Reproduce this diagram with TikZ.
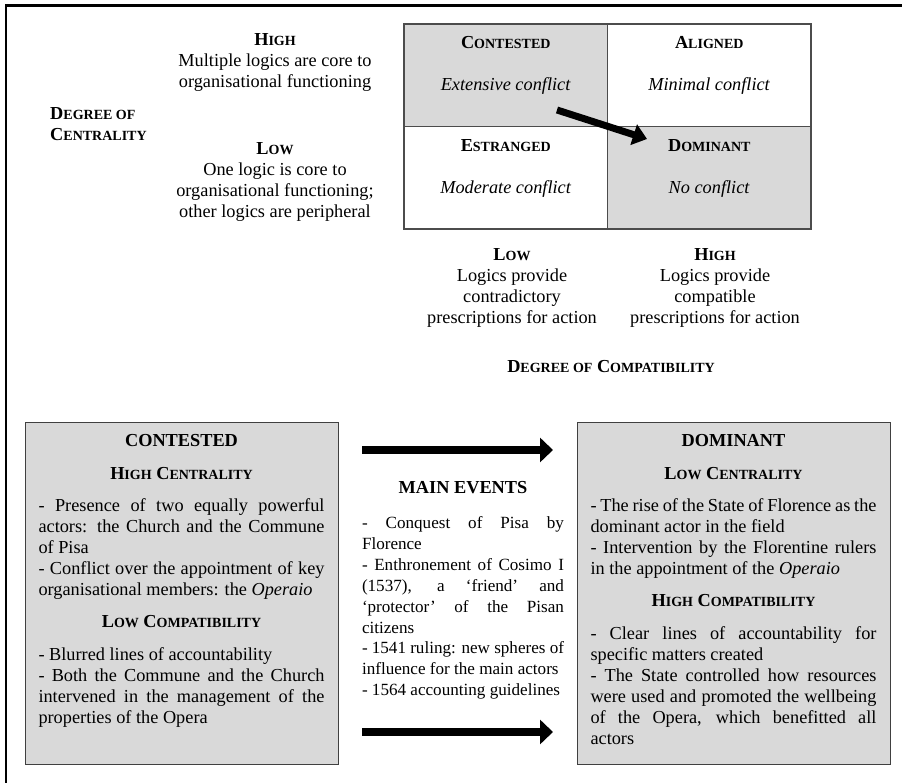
\documentclass[tikz,border=0pt]{standalone}
\usepackage{fontspec}
\setmainfont{Liberation Serif}
\usetikzlibrary{
positioning,%
arrows.meta%
}
\newcommand{\bodysize}{\fontsize{18.3}{21}\selectfont}
\newcommand{\eventsize}{\fontsize{17.1}{20.9}\selectfont}
\newcommand{\fakesc}[2]{#1{\fontsize{14}{21}\selectfont #2}}
\tikzset{
    lbl/.style={font=\bodysize, inner sep=0pt, execute at begin node=\strut, execute at end node=\strut},
    head/.style={lbl, font=\bodysize\bfseries},
    para/.style={font=\bodysize, inner sep=0pt, text width=286pt, align=justify,
        execute at begin node={\parindent=0pt\strut}, execute at end node=\strut},
    evpara/.style={para, text width=202pt, font=\eventsize},
    cell/.style={draw=black!70, line width=1.2pt, minimum width=203.5pt, minimum height=102.5pt, inner sep=0pt, outer sep=0pt},
    shaded/.style={fill=gray!30},
    panel/.style={draw=black!75, line width=1pt, fill=gray!30, minimum width=313pt, minimum height=342pt, inner sep=0pt},
    bigarrow/.style={line width=8pt, -{Triangle[length=13pt, width=24pt]}},
    frameline/.style={line width=2.2pt}
}

\begin{document}
\begin{tikzpicture}[x=1pt, y=1pt]
            \useasboundingbox (0,0) rectangle (902,783);
            \draw[frameline] (6,0) -- (6,777.5) -- (902,777.5);
            % ---- the four types
            \node[cell, shaded] (cont) at (505.75,707.75) {};
            \node[cell, right = 0pt of cont] (alig) {};
            \node[cell, below = 0pt of cont] (estr) {};
            \node[cell, shaded, right = 0pt of estr] (domi) {};
            \node[head, below = 9.3pt of cont.north] (contT) {\fakesc{C}{ONTESTED}};
            \node[lbl, below = 21pt of contT] (contS) {\textit{Extensive conflict}};
            \node[head, below = 9.3pt of alig.north] (aligT) {\fakesc{A}{LIGNED}};
            \node[lbl, below = 21pt of aligT] (aligS) {\textit{Minimal conflict}};
            \node[head, below = 10pt of estr.north] (estrT) {\fakesc{E}{STRANGED}};
            \node[lbl, below = 21pt of estrT] (estrS) {\textit{Moderate conflict}};
            \node[head, below = 10pt of domi.north] (domiT) {\fakesc{D}{OMINANT}};
            \node[lbl, below = 21pt of domiT] (domiS) {\textit{No conflict}};
            \coordinate (moveA) at (557,673);
            \coordinate (moveB) at (647,644);
            \draw[bigarrow, line width=7pt, -{Triangle[length=14pt, width=21pt]}] (moveA) -- (moveB);
            % ---- centrality axis
            \node[head, align=left, anchor=north west] (cenD) at (50,675.7) {\fakesc{D}{EGREE OF}\\\fakesc{C}{ENTRALITY}};
            \node[lbl, align=center, anchor=north] (cenH) at (275,749.7)
            {\textbf{\fakesc{H}{IGH}}\\Multiple logics are core to\\organisational functioning};
            \node[lbl, align=center, anchor=north] (cenL) at (275,640.7)
            {\textbf{\fakesc{L}{OW}}\\One logic is core to\\organisational functioning;\\other logics are peripheral};
            % ---- compatibility axis
            \node[lbl, align=center, anchor=north] (comL) at (512,534.7)
            {\textbf{\fakesc{L}{OW}}\\Logics provide\\contradictory\\prescriptions for action};
            \node[lbl, align=center, anchor=north] (comH) at (715,534.7)
            {\textbf{\fakesc{H}{IGH}}\\Logics provide\\compatible\\prescriptions for action};
            \node[head, anchor=north] (comD) at (611,425.7) {\fakesc{D}{EGREE OF} \fakesc{C}{OMPATIBILITY}};
            % ---- before
            \node[panel] (lbox) at (181.5,189) {};
            \node[head, below = 9.3pt of lbox.north] (lT) {CONTESTED};
            \node[head, below = 11pt of lT] (lC) {\fakesc{H}{IGH} \fakesc{C}{ENTRALITY}};
            \node[para, below = 11pt of lC] (lC1) {- Presence of two equally powerful\linebreak
            actors: the Church and the Commune\linebreak of Pisa\par
            - Conflict over the appointment of key\linebreak
            organisational members: the \textit{Operaio}};
            \node[head, below = 11pt of lC1] (lP) {\fakesc{L}{OW} \fakesc{C}{OMPATIBILITY}};
            \node[para, below = 11pt of lP] (lP1) {- Blurred lines of accountability\par
            - Both the Commune and the Church\linebreak
            intervened in the management of the\linebreak properties of the Opera};
            % ---- events
            \coordinate (evA) at (362,333);
            \coordinate (evB) at (553,333);
            \coordinate (evC) at (362,51);
            \coordinate (evD) at (553,51);
            \draw[bigarrow] (evA) -- (evB);
            \draw[bigarrow] (evC) -- (evD);
            \node[head, anchor=north] (evT) at (463,304.7) {MAIN EVENTS};
            \node[evpara, below = 14pt of evT] (evL) {- Conquest of Pisa by\linebreak Florence\par
            - Enthronement of Cosimo I\linebreak (1537), a ‘friend’ and\linebreak
            ‘protector’ of the Pisan\linebreak citizens\par
            - 1541 ruling: new spheres of\linebreak influence for the main actors\par
            - 1564 accounting guidelines};
            % ---- after
            \node[panel] (rbox) at (733.5,189) {};
            \node[head, below = 9.3pt of rbox.north] (rT) {DOMINANT};
            \node[head, below = 11pt of rT] (rC) {\fakesc{L}{OW} \fakesc{C}{ENTRALITY}};
            \node[para, below = 11pt of rC] (rC1) {- The rise of the State of Florence as the\linebreak
            dominant actor in the field\par
            - Intervention by the Florentine rulers\linebreak
            in the appointment of the \textit{Operaio}};
            \node[head, below = 11pt of rC1] (rP) {\fakesc{H}{IGH} \fakesc{C}{OMPATIBILITY}};
            \node[para, below = 11pt of rP] (rP1) {- Clear lines of accountability for\linebreak
            specific matters created\par
            - The State controlled how resources\linebreak
            were used and promoted the wellbeing\linebreak
            of the Opera, which benefitted all\linebreak actors};
\end{tikzpicture}
\end{document}
